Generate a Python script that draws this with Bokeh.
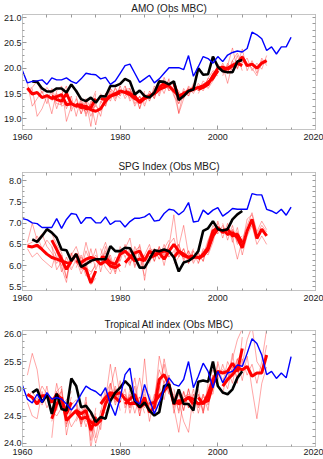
from bokeh.plotting import figure
from bokeh.layouts import column
from bokeh.models import FixedTicker, LinearAxis, Range1d, PrintfTickFormatter
from bokeh.embed import file_html
from bokeh.resources import INLINE

# ---------------- data ----------------
blue_years = list(range(1960, 2016))
black_years = list(range(1962, 2006))
hind_starts = [1961, 1966, 1971, 1976, 1981, 1986, 1991, 1996, 2001]
lead_years = 10

titles = ["AMO (Obs MBC)", "SPG Index (Obs MBC)", "Tropical Atl index (Obs MBC)"]

amo_blue = [19.95, 19.71, 19.74, 19.75, 19.77, 19.68, 19.81, 19.77, 19.77, 19.81,
            19.74, 19.70, 19.79, 19.90, 19.88, 19.87, 19.79, 19.82, 19.68, 19.75,
            19.90, 20.05, 20.08, 19.90, 19.72, 19.79, 19.86, 19.71, 19.79, 19.90,
            20.01, 20.01, 20.01, 19.97, 20.25, 19.84, 20.03, 20.23, 20.19, 20.10,
            20.23, 20.13, 20.26, 20.31, 20.34, 20.32, 20.39, 20.71, 20.66, 20.58,
            20.35, 20.42, 20.28, 20.42, 20.42, 20.61]
amo_black = [19.74, 19.73, 19.60, 19.54, 19.54, 19.60, 19.60, 19.52, 19.68, 19.55,
             19.39, 19.35, 19.42, 19.32, 19.45, 19.44, 19.65, 19.65, 19.69, 19.79,
             19.74, 19.48, 19.56, 19.45, 19.42, 19.52, 19.74, 19.73, 19.68, 19.74,
             19.37, 19.45, 19.55, 19.58, 20.00, 19.87, 19.88, 20.23, 20.03, 19.94,
             19.92, 19.92, 20.13, 20.16]
amo_mean = [
    [19.61, 19.49, 19.52, 19.42, 19.46, 19.40, 19.44, 19.48, 19.28, 19.30],
    [19.45, 19.38, 19.35, 19.50, 19.30, 19.25, 19.28, 19.20, 19.22, 19.40],
    [19.30, 19.22, 19.25, 19.18, 19.15, 19.20, 19.35, 19.45, 19.48, 19.52],
    [19.40, 19.38, 19.45, 19.50, 19.55, 19.52, 19.48, 19.40, 19.35, 19.42],
    [19.55, 19.50, 19.45, 19.32, 19.40, 19.45, 19.50, 19.58, 19.62, 19.68],
    [19.45, 19.50, 19.62, 19.70, 19.65, 19.55, 19.45, 19.50, 19.55, 19.60],
    [19.70, 19.42, 19.48, 19.55, 19.58, 19.62, 19.65, 19.72, 19.80, 19.95],
    [19.58, 19.62, 19.68, 19.85, 20.00, 20.02, 19.98, 20.05, 20.10, 20.05],
    [19.95, 20.00, 20.05, 20.10, 20.22, 20.05, 20.08, 20.00, 20.10, 20.15],
]
amo_members = [
    [[19.70, 19.25, 19.40, 19.55, 19.30, 19.60, 19.35, 19.50, 19.20, 19.45],
     [19.55, 19.60, 19.05, 19.20, 19.45, 19.10, 19.55, 19.65, 18.95, 19.25],
     [19.58, 19.62, 19.75, 19.50, 19.62, 19.48, 19.30, 19.28, 19.55, 19.20]],
    [[19.55, 19.20, 19.48, 19.65, 19.15, 19.40, 19.10, 19.35, 18.85, 19.50],
     [19.35, 19.50, 19.25, 19.30, 19.45, 19.05, 19.42, 19.05, 19.35, 19.25],
     [19.40, 19.45, 19.30, 19.55, 19.25, 19.30, 19.20, 19.15, 19.30, 19.55]],
    [[19.45, 19.10, 19.35, 19.05, 19.30, 19.05, 19.50, 19.40, 19.60, 19.45],
     [19.20, 19.35, 19.10, 19.30, 18.88, 19.35, 19.25, 19.55, 19.35, 19.65],
     [19.25, 19.20, 19.40, 19.20, 19.25, 19.15, 19.40, 19.60, 19.50, 19.40]],
    [[19.50, 19.25, 19.60, 19.40, 19.65, 19.40, 19.55, 19.25, 19.45, 19.30],
     [19.30, 19.50, 19.35, 19.62, 19.45, 19.65, 19.35, 19.50, 19.20, 19.55],
     [19.45, 19.40, 19.50, 19.45, 19.50, 19.58, 19.60, 19.38, 19.42, 19.35]],
    [[19.65, 19.40, 19.55, 19.20, 19.50, 19.35, 19.65, 19.45, 19.75, 19.55],
     [19.45, 19.60, 19.30, 19.45, 19.25, 19.55, 19.40, 19.70, 19.50, 19.80],
     [19.50, 19.55, 19.50, 19.30, 19.45, 19.50, 19.45, 19.60, 19.65, 19.60]],
    [[19.55, 19.40, 19.75, 19.60, 19.78, 19.45, 19.30, 19.60, 19.45, 19.70],
     [19.35, 19.60, 19.50, 19.82, 19.55, 19.65, 19.55, 19.40, 19.65, 19.55],
     [19.40, 19.55, 19.65, 19.70, 19.60, 19.50, 19.12, 19.55, 19.50, 19.65]],
    [[19.60, 19.30, 19.55, 19.45, 19.65, 19.55, 19.75, 19.65, 19.90, 19.85],
     [19.75, 19.10, 19.40, 19.60, 19.50, 19.70, 19.60, 19.80, 19.75, 20.05],
     [19.65, 19.50, 19.45, 19.62, 19.55, 19.60, 19.68, 19.75, 19.85, 19.90]],
    [[19.65, 19.55, 19.80, 19.95, 19.90, 20.10, 19.90, 20.15, 20.00, 20.20],
     [19.50, 19.70, 19.60, 19.75, 20.08, 19.95, 20.05, 19.95, 20.25, 19.95],
     [19.55, 19.65, 19.72, 19.90, 19.95, 20.05, 19.70, 20.10, 20.05, 20.10]],
    [[20.05, 19.90, 20.15, 20.30, 20.10, 20.20, 19.95, 20.10, 19.98, 20.25],
     [19.85, 20.10, 19.95, 20.05, 20.38, 19.95, 20.15, 19.90, 20.20, 20.05],
     [19.90, 20.05, 20.40, 19.98, 20.25, 20.10, 20.00, 19.85, 20.15, 20.10]],
]

spg_blue = [7.11, 7.08, 7.01, 6.99, 6.90, 6.90, 6.90, 7.11, 6.88, 7.09,
            7.23, 7.21, 6.99, 7.13, 7.13, 7.01, 7.01, 7.15, 6.97, 7.05,
            7.05, 6.91, 7.04, 7.12, 7.12, 7.15, 7.23, 7.05, 7.07, 7.23,
            7.33, 7.31, 7.20, 7.29, 7.49, 7.03, 7.05, 7.31, 7.21, 7.31,
            7.37, 7.17, 7.25, 7.35, 7.33, 7.33, 7.33, 7.70, 7.67, 7.67,
            7.33, 7.29, 7.23, 7.33, 7.19, 7.38]
spg_black = [6.62, 6.56, 6.70, 6.86, 6.78, 6.66, 6.38, 6.36, 6.11, 6.27,
             5.97, 6.03, 6.11, 6.15, 6.15, 6.15, 6.46, 6.34, 6.34, 6.42,
             6.41, 6.19, 5.95, 5.95, 6.15, 6.36, 6.34, 6.38, 6.34, 6.19,
             5.86, 6.07, 6.11, 6.19, 6.34, 6.82, 6.88, 7.05, 6.86, 6.83,
             6.86, 7.09, 7.21, 7.29]
spg_mean = [
    [6.46, 6.44, 6.48, 6.38, 6.27, 6.19, 6.15, 6.11, 6.07, 6.04],
    [6.60, 6.38, 6.15, 5.91, 6.11, 6.27, 5.99, 5.91, 5.59, 5.87],
    [6.11, 6.07, 6.15, 6.19, 6.15, 6.03, 6.11, 5.99, 5.95, 6.03],
    [6.20, 6.19, 6.07, 6.03, 6.27, 6.34, 6.23, 6.11, 6.15, 6.11],
    [6.07, 6.19, 6.30, 6.34, 6.11, 6.34, 6.27, 6.30, 6.34, 6.34],
    [6.19, 6.23, 6.30, 6.15, 6.34, 6.50, 6.34, 6.23, 6.20, 6.23],
    [6.19, 6.34, 6.27, 6.19, 6.20, 6.19, 6.23, 6.38, 6.70, 6.86],
    [6.15, 6.27, 6.42, 6.82, 6.90, 6.78, 6.86, 6.70, 6.74, 6.54],
    [6.86, 6.74, 6.78, 6.66, 6.42, 6.82, 7.09, 6.64, 6.86, 6.70],
]
spg_members = [
    [[6.55, 7.00, 6.60, 6.75, 6.45, 6.30, 6.05, 6.25, 5.90, 6.15],
     [6.40, 6.20, 6.30, 6.15, 6.05, 5.95, 6.35, 5.85, 6.20, 5.95],
     [6.50, 6.55, 6.70, 6.40, 6.60, 6.45, 5.90, 6.10, 5.70, 6.30]],
    [[6.75, 6.50, 6.30, 5.70, 6.25, 6.45, 6.10, 5.75, 5.80, 6.05],
     [6.45, 6.20, 6.00, 6.10, 5.90, 6.15, 5.80, 6.10, 5.55, 5.70],
     [6.55, 6.45, 5.95, 5.60, 6.30, 6.05, 6.20, 5.95, 5.85, 6.00]],
    [[6.30, 5.90, 6.35, 6.05, 6.40, 5.85, 6.30, 6.15, 5.80, 6.20],
     [5.95, 6.25, 5.95, 6.40, 5.90, 6.20, 5.95, 5.80, 6.10, 5.85],
     [6.05, 6.00, 6.55, 6.10, 6.25, 6.00, 6.45, 6.05, 6.00, 6.15]],
    [[6.40, 6.05, 6.25, 5.85, 6.45, 6.20, 6.40, 5.95, 6.30, 5.90],
     [6.05, 6.35, 5.90, 6.20, 6.10, 6.50, 6.05, 6.30, 5.95, 6.25],
     [6.25, 6.55, 6.15, 5.95, 6.35, 6.40, 6.65, 6.00, 6.20, 5.75]],
    [[6.20, 6.00, 6.45, 6.20, 6.25, 6.50, 6.10, 6.45, 6.20, 6.50],
     [5.95, 6.35, 6.15, 6.50, 5.95, 6.20, 6.40, 6.15, 6.50, 6.20],
     [6.10, 6.25, 6.35, 6.45, 5.65, 6.40, 6.35, 6.25, 6.40, 6.60]],
    [[6.35, 6.10, 6.45, 6.00, 6.50, 6.65, 6.20, 6.40, 6.05, 6.35],
     [6.05, 6.40, 6.15, 6.30, 6.20, 6.35, 6.50, 6.10, 6.35, 6.10],
     [6.20, 6.30, 6.40, 6.25, 6.45, 7.20, 6.25, 6.30, 6.15, 6.40]],
    [[6.30, 6.50, 6.15, 6.35, 6.05, 6.30, 6.10, 6.55, 6.85, 6.75],
     [6.05, 6.20, 6.40, 6.05, 6.35, 6.05, 6.35, 6.25, 6.55, 7.00],
     [6.25, 6.45, 6.95, 6.25, 6.15, 6.25, 6.20, 6.45, 6.80, 6.90]],
    [[6.30, 6.10, 6.55, 6.95, 6.75, 6.95, 6.70, 6.85, 6.60, 6.70],
     [6.05, 6.40, 6.30, 6.70, 7.05, 6.65, 7.00, 6.55, 6.90, 6.40],
     [6.20, 6.25, 6.60, 6.85, 6.85, 6.80, 6.90, 6.65, 6.15, 6.60]],
    [[7.00, 6.60, 6.95, 6.50, 6.60, 6.95, 7.25, 6.80, 7.05, 6.85],
     [6.75, 6.90, 6.65, 6.80, 6.25, 6.70, 6.95, 6.50, 6.70, 6.50],
     [6.90, 6.70, 6.85, 6.55, 6.50, 7.10, 7.20, 6.75, 6.95, 6.80]],
]

tna_blue = [25.06, 24.81, 24.74, 24.90, 24.75, 24.93, 24.81, 24.84, 24.81, 24.72,
            24.61, 24.73, 24.90, 25.05, 24.99, 24.95, 24.87, 25.02, 24.72, 24.51,
            24.84, 25.26, 25.38, 24.78, 24.72, 25.08, 24.81, 24.54, 24.75, 24.99,
            25.20, 25.08, 25.05, 25.17, 25.50, 25.02, 25.23, 25.47, 25.32, 25.02,
            25.32, 25.11, 25.29, 25.32, 25.44, 25.41, 25.65, 25.92, 25.83, 25.62,
            25.26, 25.32, 25.19, 25.29, 25.20, 25.59]
tna_black = [24.93, 24.99, 24.75, 24.89, 24.54, 24.91, 24.63, 24.60, 25.19, 25.05,
             24.66, 24.69, 24.57, 24.39, 24.48, 24.45, 24.78, 24.93, 25.02, 25.14,
             25.05, 24.78, 24.66, 24.75, 24.60, 24.51, 24.57, 25.05, 25.08, 24.72,
             24.99, 24.72, 24.72, 24.60, 25.13, 25.15, 25.13, 25.50, 25.05, 24.93,
             24.90, 24.99, 25.20, 25.32]
tna_mean = [
    [24.90, 24.84, 24.72, 24.87, 24.87, 24.75, 24.90, 24.81, 24.54, 24.75],
    [24.45, 24.72, 24.84, 24.42, 24.51, 24.60, 24.54, 24.60, 24.24, 24.48],
    [24.57, 24.45, 24.48, 24.39, 24.33, 24.42, 24.72, 24.90, 24.84, 24.75],
    [24.72, 24.84, 24.93, 24.90, 24.93, 24.81, 24.72, 24.75, 24.66, 24.72],
    [24.72, 24.81, 24.90, 24.66, 24.84, 24.57, 24.66, 25.17, 25.26, 25.08],
    [24.72, 24.75, 24.87, 24.96, 25.08, 24.72, 24.78, 24.78, 24.84, 24.72],
    [24.81, 24.72, 24.78, 24.84, 24.81, 24.72, 24.75, 24.78, 25.08, 25.29],
    [24.84, 24.72, 24.90, 25.17, 25.32, 25.29, 25.32, 25.47, 25.32, 25.74],
    [25.05, 25.17, 25.26, 25.38, 25.35, 25.41, 25.23, 25.29, 25.29, 25.62],
]
tna_members = [
    [[25.25, 25.65, 25.35, 24.70, 25.05, 24.55, 25.10, 24.70, 24.80, 24.95],
     [24.75, 24.50, 24.45, 24.95, 24.65, 24.85, 24.60, 25.00, 24.35, 24.60],
     [24.85, 24.95, 24.80, 25.05, 24.90, 24.60, 24.95, 24.75, 24.50, 24.85]],
    [[24.10, 24.95, 25.05, 24.30, 24.70, 24.80, 24.40, 24.75, 24.05, 24.65],
     [24.60, 24.50, 24.65, 24.55, 24.30, 24.45, 24.70, 24.40, 24.45, 24.30],
     [24.40, 24.85, 24.95, 24.15, 24.60, 24.70, 24.35, 24.85, 23.90, 24.55]],
    [[24.75, 24.30, 24.65, 24.20, 24.50, 24.25, 24.90, 25.10, 24.70, 24.95],
     [24.40, 24.60, 24.30, 24.55, 24.10, 24.60, 24.55, 24.75, 25.00, 24.60],
     [24.65, 24.35, 24.60, 24.30, 24.00, 24.35, 24.80, 25.45, 24.85, 24.80]],
    [[24.90, 24.65, 25.10, 24.75, 25.15, 24.65, 24.90, 24.55, 24.85, 24.55],
     [24.55, 25.00, 24.80, 25.05, 24.75, 25.00, 24.55, 24.90, 24.50, 24.90],
     [24.80, 24.75, 25.00, 25.40, 24.85, 24.90, 24.65, 24.80, 25.20, 24.70]],
    [[24.90, 24.65, 25.05, 24.50, 25.00, 24.40, 24.85, 25.35, 25.10, 25.25],
     [24.55, 25.00, 24.75, 24.85, 24.65, 24.75, 24.50, 25.00, 25.45, 24.90],
     [24.80, 24.85, 25.20, 24.60, 25.55, 24.60, 24.70, 25.60, 25.20, 25.15]],
    [[24.90, 24.55, 25.05, 24.80, 25.25, 24.55, 24.95, 24.60, 25.00, 24.55],
     [24.55, 24.90, 24.70, 25.15, 24.90, 24.90, 24.60, 24.95, 24.65, 24.90],
     [24.80, 24.70, 24.95, 25.55, 25.10, 24.65, 24.20, 24.85, 24.90, 24.60]],
    [[25.00, 24.55, 24.95, 24.65, 25.00, 24.55, 24.90, 24.60, 25.25, 25.10],
     [24.65, 24.90, 24.60, 25.00, 24.65, 24.90, 24.55, 24.95, 24.90, 25.45],
     [24.85, 24.75, 24.40, 24.20, 24.90, 24.65, 24.85, 24.80, 25.15, 25.35]],
    [[25.00, 24.55, 25.10, 25.35, 25.15, 25.45, 25.15, 25.65, 25.10, 25.95],
     [24.65, 24.90, 24.70, 25.00, 25.50, 25.10, 25.50, 25.30, 25.55, 25.60],
     [24.90, 24.60, 25.00, 25.25, 25.30, 25.35, 25.25, 25.55, 25.90, 26.10]],
    [[25.20, 25.00, 25.40, 25.20, 25.55, 25.25, 25.45, 25.10, 25.50, 26.10],
     [24.90, 25.35, 25.10, 25.55, 25.15, 25.60, 25.00, 24.45, 25.10, 25.40],
     [25.10, 25.20, 25.35, 25.30, 25.45, 25.90, 26.15, 25.50, 25.35, 25.80]],
]

y_ranges = [(18.79, 21.06), (5.41, 8.20), (23.94, 26.07)]
y_major = [[19.0, 19.5, 20.0, 20.5, 21.0],
           [5.5, 6.0, 6.5, 7.0, 7.5, 8.0],
           [24.0, 24.5, 25.0, 25.5, 26.0]]
x_major = [1960, 1980, 2000, 2020]
x_minor = [1965, 1970, 1975, 1985, 1990, 1995, 2005, 2010, 2015]

FONT = "Liberation Sans"
FRAME = "#c4c4c4"
TICK = "#9a9a9a"


def minor_from(major, n=4):
    step = (major[1] - major[0]) / n
    lo = major[0] - 2 * (major[1] - major[0])
    out = []
    v = lo
    while v <= major[-1] + 2 * (major[1] - major[0]):
        out.append(round(v, 4))
        v += step
    return out


def style_axis(ax):
    ax.axis_line_color = FRAME
    ax.major_tick_line_color = TICK
    ax.minor_tick_line_color = TICK
    ax.major_tick_in = 4
    ax.major_tick_out = 0
    ax.minor_tick_in = 2
    ax.minor_tick_out = 0
    ax.major_label_text_font = FONT
    ax.major_label_text_color = "#1a1a1a"
    ax.major_label_text_font_size = "9px"


def make_panel(i, blue, black, means, members, height, top, bottom, xstand):
    p = figure(width=323, height=height,
               x_range=Range1d(1960, 2020), y_range=Range1d(*y_ranges[i]),
               output_backend="svg", toolbar_location=None,
               min_border_left=17, min_border_right=8,
               min_border_top=top, min_border_bottom=bottom)
    p.title.text = titles[i]
    p.title.align = "center"
    p.title.text_font = FONT
    p.title.text_font_size = "10px"
    p.title.text_font_style = "normal"
    p.title.text_color = "#1a1a1a"
    p.title.standoff = 1
    p.title.offset = 0
    p.xgrid.visible = False
    p.ygrid.visible = False
    p.outline_line_color = FRAME
    p.background_fill_color = "white"
    p.border_fill_color = "white"

    xt = FixedTicker(ticks=x_major, minor_ticks=x_minor)
    ymin = minor_from(y_major[i])
    yt = FixedTicker(ticks=y_major[i], minor_ticks=ymin)

    p.xaxis.ticker = xt
    p.yaxis.ticker = yt
    p.yaxis.formatter = PrintfTickFormatter(format="%.1f")
    style_axis(p.xaxis[0])
    style_axis(p.yaxis[0])
    p.xaxis.major_label_standoff = xstand
    p.yaxis.major_label_standoff = 1

    # unlabelled frame axes (right / top): ticks only, no labels
    ax_r = LinearAxis(ticker=FixedTicker(ticks=[], minor_ticks=ymin))
    style_axis(ax_r)
    ax_r.minor_tick_in = 3
    ax_r.major_label_standoff = 0
    p.add_layout(ax_r, "right")
    ax_t = LinearAxis(ticker=FixedTicker(ticks=[], minor_ticks=x_major + x_minor))
    style_axis(ax_t)
    ax_t.minor_tick_in = 3
    ax_t.major_label_standoff = 0
    p.add_layout(ax_t, "above")

    # ensemble members (thin)
    xs, ys = [], []
    for s, seg in zip(hind_starts, members):
        for m in seg:
            xs.append(list(range(s, s + lead_years)))
            ys.append(m)
    p.multi_line(xs, ys, line_color="#ff2020", line_alpha=0.5, line_width=0.8)

    # ensemble means (thick)
    mxs = [list(range(s, s + lead_years)) for s in hind_starts]
    p.multi_line(mxs, means, line_color="#ff0000", line_width=3)

    p.line(black_years, black, line_color="black", line_width=2.6)
    p.line(blue_years, blue, line_color="#0000ff", line_width=1.4)
    return p


p1 = make_panel(0, amo_blue, amo_black, amo_mean, amo_members, 150, 12, 21, 4)
p2 = make_panel(1, spg_blue, spg_black, spg_mean, spg_members, 158, 22, 18, 4)
p3 = make_panel(2, tna_blue, tna_black, tna_mean, tna_members, 151, 22, 13, 2)

layout = column(p1, p2, p3, spacing=0)
open("out.html", "w").write(file_html(layout, INLINE))
